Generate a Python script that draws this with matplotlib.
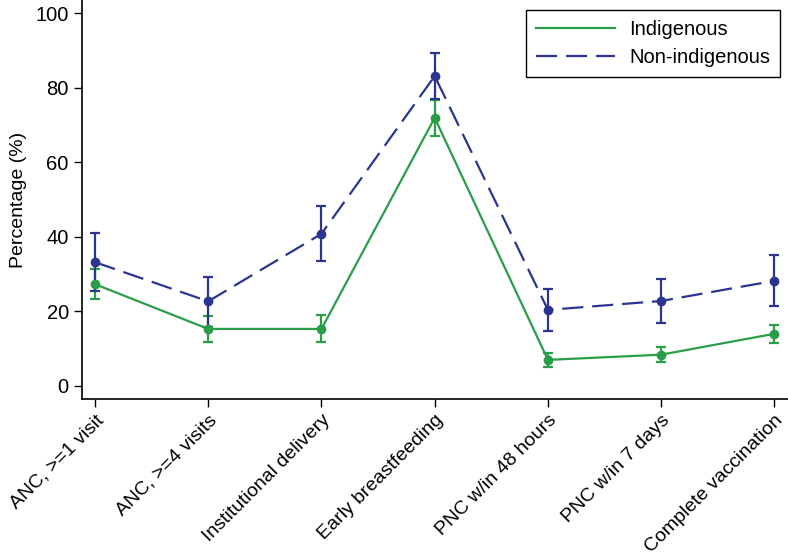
import matplotlib
matplotlib.use('Agg')
import matplotlib.pyplot as plt
from matplotlib.lines import Line2D
import numpy as np

# data
categories = ["ANC, >=1 visit", "ANC, >=4 visits", "Institutional delivery",
              "Early breastfeeding", "PNC w/in 48 hours", "PNC w/in 7 days",
              "Complete vaccination"]
indig = [27.3, 15.3, 15.3, 71.9, 7.0, 8.4, 14.0]
indig_lo = [23.3, 11.8, 11.8, 67.0, 5.2, 6.3, 11.5]
indig_hi = [31.3, 18.8, 19.0, 76.7, 8.8, 10.5, 16.3]
nonind = [33.2, 22.7, 40.8, 83.1, 20.4, 22.8, 28.2]
nonind_lo = [25.5, 15.8, 33.6, 76.9, 14.7, 17.0, 21.5]
nonind_hi = [41.0, 29.2, 48.3, 89.3, 26.0, 28.7, 35.0]

green = '#2a9d48'
navy = '#2b3590'
dash = (9.5, 4)

plt.rcParams['font.family'] = ['Liberation Sans', 'DejaVu Sans']

fig = plt.figure(figsize=(7.88, 5.55), dpi=100)
ax = fig.add_axes([0.104, 0.281, 0.896, 0.719])

x = np.arange(len(categories))


def yerr(vals, lo, hi):
    v = np.array(vals)
    return [v - np.array(lo), np.array(hi) - v]


ax.errorbar(x, indig, yerr=yerr(indig, indig_lo, indig_hi), color=green,
            lw=1.6, marker='o', ms=6, capsize=3.8, capthick=1.6, elinewidth=1.6)
ax.errorbar(x, nonind, yerr=yerr(nonind, nonind_lo, nonind_hi), color=navy,
            lw=1.6, marker='o', ms=6, capsize=3.8, capthick=1.6, elinewidth=1.6,
            dashes=dash)

ax.set_xlim(-0.115, 6.12)
ax.set_ylim(-3.5, 103.5)
ax.set_yticks([0, 20, 40, 60, 80, 100])
ax.set_xticks(x)
ax.set_xticklabels(categories, rotation=45, ha='right', rotation_mode='anchor',
                   fontsize=14)
ax.tick_params(axis='y', labelsize=14.5, length=6, width=1)
ax.tick_params(axis='x', length=6, width=1, pad=3)
ax.set_ylabel('Percentage (%)', fontsize=14, labelpad=6)

for side in ['top', 'right']:
    ax.spines[side].set_visible(False)
for side in ['left', 'bottom']:
    ax.spines[side].set_linewidth(1.2)

handles = [Line2D([], [], color=green, lw=1.6),
           Line2D([], [], color=navy, lw=1.6, dashes=dash)]
leg = ax.legend(handles, ['Indigenous', 'Non-indigenous'], loc='upper right',
                bbox_to_anchor=(1.003, 1.0), fontsize=14.5, fancybox=False,
                edgecolor='black', framealpha=1, handlelength=3.9,
                handletextpad=0.7, borderpad=0.5, labelspacing=0.45)
leg.get_frame().set_linewidth(1.0)

fig.savefig('out.png', dpi=100)
